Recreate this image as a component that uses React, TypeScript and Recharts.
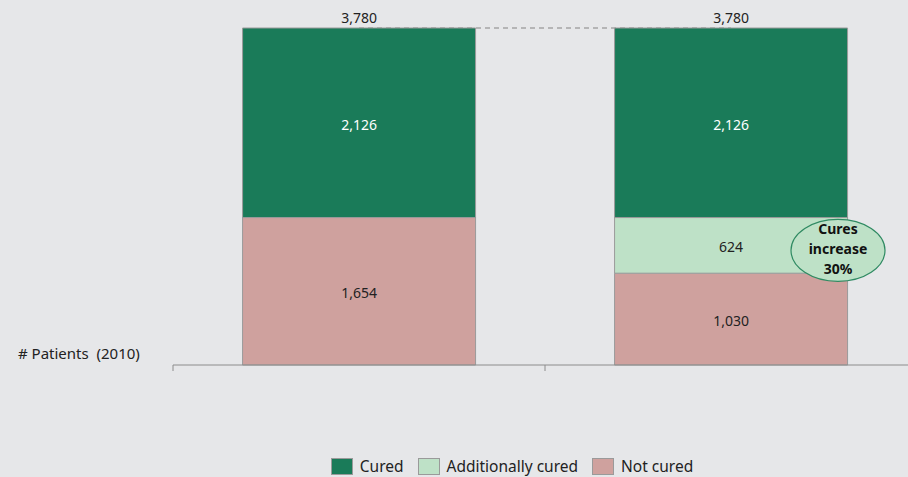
import React from "react";
import {
  BarChart,
  Bar,
  XAxis,
  YAxis,
  LabelList,
  ReferenceLine,
  ReferenceDot,
} from "recharts";

const categories = ["Today", "With intervention"];
const cured = [2126, 2126];
const additionallyCured = [0, 624];
const notCured = [1654, 1030];
const totals = [3780, 3780];
// category boundaries, as a fraction of the plot width
const edgeTicks = [0, 0.5, 1];

const seriesNames = ["Cured", "Additionally cured", "Not cured"];
const seriesColors = ["#1a7b59", "#bee1c7", "#cfa19e"];

const data = categories.map((name, i) => ({
  name,
  cured: cured[i],
  additional: additionallyCured[i],
  notCured: notCured[i],
  total: totals[i],
}));

const fmt = (v: any) => (v ? Number(v).toLocaleString("en-US") : "");

const FONT = "'Noto Sans', 'Open Sans', sans-serif";
const BG = "#e6e7e9";

const NoTick = () => <g />;

// value label in the middle of a segment, sitting a touch low like the original
const segmentLabel = (color: string) => (props: any) => {
  const { x, y, width, height, value } = props;
  if (!value) return null;
  return (
    <text
      x={Number(x) + Number(width) / 2}
      y={Number(y) + Number(height) / 2 + 3}
      textAnchor="middle"
      dominantBaseline="middle"
      fontFamily={FONT}
      fontSize={14}
      fill={color}
    >
      {fmt(value)}
    </text>
  );
};

function CalloutShape(props: any) {
  const { cx, cy } = props;
  if (cx == null || cy == null) return null;
  const x = cx + 107;
  const y = cy + 5;
  return (
    <g>
      <ellipse cx={x} cy={y} rx={47} ry={31} fill="#bee1c7" stroke="#2f8a62" strokeWidth={1.2} />
      <text x={x} y={y} textAnchor="middle" fontFamily={FONT} fontSize={14} fontWeight={700} fill="#111">
        <tspan x={x} dy={-16}>Cures</tspan>
        <tspan x={x} dy={20}>increase</tspan>
        <tspan x={x} dy={20}>30%</tspan>
      </text>
    </g>
  );
}

export default function App() {
  return (
    <div
      style={{
        position: "absolute",
        left: 0,
        top: 0,
        width: 908,
        height: 477,
        overflow: "hidden",
        background: BG,
        fontFamily: FONT,
      }}
    >
      <BarChart
        width={917}
        height={477}
        data={data}
        margin={{ top: 28, right: 0, bottom: 82, left: 173 }}
        barCategoryGap="18.7%"
      >
        <XAxis dataKey="name" hide height={0} />
        <XAxis
          xAxisId="edge"
          type="number"
          domain={[0, 1]}
          allowDataOverflow
          ticks={edgeTicks}
          interval={0}
          tick={NoTick}
          axisLine={{ stroke: "#8c8c8c" }}
          tickLine={{ stroke: "#8c8c8c" }}
          tickSize={6}
          height={30}
        />
        <YAxis hide domain={[0, 3780]} />
        <ReferenceLine
          segment={[
            { x: categories[0], y: totals[0] },
            { x: categories[1], y: totals[1] },
          ]}
          stroke="#a5a5a5"
          strokeWidth={1.5}
          strokeDasharray="5 4"
          zIndex={100}
        />
        <Bar dataKey="notCured" stackId="a" fill={seriesColors[2]} stroke="#9a9a9a" strokeWidth={1} isAnimationActive={false}>
          <LabelList dataKey="notCured" content={segmentLabel("#222")} />
        </Bar>
        <Bar dataKey="additional" stackId="a" fill={seriesColors[1]} stroke="#9a9a9a" strokeWidth={1} isAnimationActive={false}>
          <LabelList dataKey="additional" content={segmentLabel("#222")} />
        </Bar>
        <Bar dataKey="cured" stackId="a" fill={seriesColors[0]} stroke="#9a9a9a" strokeWidth={1} isAnimationActive={false}>
          <LabelList dataKey="cured" content={segmentLabel("#fff")} />
          <LabelList dataKey="total" position="top" offset={5} formatter={fmt} fill="#222" fontSize={14} fontFamily={FONT} />
        </Bar>
        <ReferenceDot
          x={categories[1]}
          y={notCured[1] + additionallyCured[1] / 2}
          shape={CalloutShape}
        />
      </BarChart>
      <div
        style={{
          position: "absolute",
          left: 18,
          top: 343,
          fontSize: 15,
          color: "#222",
          whiteSpace: "pre",
        }}
      >
        {"# Patients  (2010)"}
      </div>
      <div
        style={{
          position: "absolute",
          left: 0,
          width: 1024,
          top: 455,
          display: "flex",
          justifyContent: "center",
          alignItems: "center",
          gap: 14,
          fontSize: 15.5,
          color: "#222",
        }}
      >
        {seriesNames.map((n, i) => (
          <div key={n} style={{ display: "flex", alignItems: "center" }}>
            <span
              style={{
                display: "inline-block",
                width: 20,
                height: 15,
                background: seriesColors[i],
                border: "1px solid #9a9a9a",
                marginRight: 7,
              }}
            />
            <span>{n}</span>
          </div>
        ))}
      </div>
    </div>
  );
}
